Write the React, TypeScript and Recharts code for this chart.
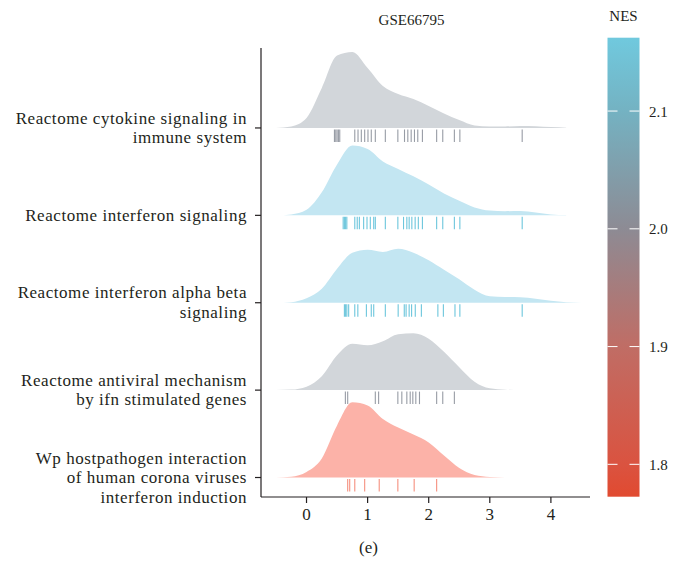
import React from "react";
import { ComposedChart, Area, Scatter, XAxis, YAxis } from "recharts";

// Categories, top to bottom
const PATHWAYS = [
  "Reactome cytokine signaling in\nimmune system",
  "Reactome interferon signaling",
  "Reactome interferon alpha beta\nsignaling",
  "Reactome antiviral mechanism\nby ifn stimulated genes",
  "Wp hostpathogen interaction\nof human corona viruses\ninterferon induction",
];
const X_TICKS = [0, 1, 2, 3, 4];
const NES_TICKS = [1.8, 1.9, 2.0, 2.1];

// Shared x grid of the density estimates
const X_GRID = [-0.5, -0.25, 0, 0.25, 0.5, 0.75, 1.0, 1.25, 1.5, 1.75, 2.0, 2.25, 2.5, 2.75, 3.0, 3.25, 3.5, 3.75, 4.0, 4.25, 4.5];

// Ridge densities (scaled)
const DENS_CYTOKINE = [0, 0.017, 0.114, 0.457, 0.83, 0.87, 0.686, 0.48, 0.389, 0.331, 0.251, 0.166, 0.091, 0.029, 0.017, 0.017, 0.023, 0.021, 0.011, 0.003, null];
const DENS_IFN = [0, 0.011, 0.063, 0.263, 0.583, 0.8, 0.76, 0.617, 0.531, 0.446, 0.354, 0.251, 0.166, 0.091, 0.055, 0.048, 0.05, 0.032, 0.01, 0.003, null];
const DENS_IFN_AB = [0, 0.007, 0.051, 0.16, 0.389, 0.571, 0.606, 0.581, 0.617, 0.571, 0.486, 0.377, 0.269, 0.149, 0.074, 0.065, 0.064, 0.046, 0.022, 0.007, 0];
const DENS_ANTIVIRAL = [0, 0.006, 0.04, 0.16, 0.4, 0.531, 0.514, 0.56, 0.64, 0.651, 0.589, 0.44, 0.263, 0.097, 0.021, 0.005, 0, null, null, null, null];
const DENS_WP = [0, 0.009, 0.063, 0.217, 0.594, 0.86, 0.825, 0.669, 0.571, 0.491, 0.4, 0.251, 0.109, 0.029, 0.007, 0.001, null, null, null, null, null];

// Rug (gene) positions
const RUG_CYTOKINE = [0.457, 0.479, 0.5, 0.522, 0.544, 0.79, 0.843, 0.897, 0.952, 1.006, 1.06, 1.126, 1.29, 1.495, 1.604, 1.658, 1.713, 1.767, 1.821, 1.897, 2.13, 2.23, 2.42, 2.51, 3.53];
const RUG_IFN = [0.6, 0.62, 0.64, 0.66, 0.79, 0.83, 0.865, 0.935, 0.99, 1.044, 1.1, 1.126, 1.29, 1.495, 1.588, 1.642, 1.68, 1.724, 1.778, 1.83, 1.897, 2.13, 2.23, 2.42, 2.51, 3.53];
const RUG_IFN_AB = [0.62, 0.64, 0.66, 0.69, 0.79, 0.84, 0.98, 1.06, 1.1, 1.29, 1.5, 1.6, 1.63, 1.68, 1.72, 1.78, 1.88, 2.15, 2.24, 2.43, 2.51, 3.53];
const RUG_ANTIVIRAL = [0.636, 0.674, 1.126, 1.18, 1.495, 1.56, 1.642, 1.697, 1.74, 1.789, 1.849, 2.13, 2.23, 2.42];
const RUG_WP = [0.674, 0.707, 0.79, 0.952, 1.19, 1.495, 1.762, 2.13];

const DENSITIES = [DENS_CYTOKINE, DENS_IFN, DENS_IFN_AB, DENS_ANTIVIRAL, DENS_WP];
const RUGS = [RUG_CYTOKINE, RUG_IFN, RUG_IFN_AB, RUG_ANTIVIRAL, RUG_WP];

const FILLS = ["#d2d6da", "#c3e6f2", "#c3e6f2", "#d2d6da", "#fcb2a8"];
const RUG_COLORS = ["#979ca5", "#6cc6dc", "#6cc6dc", "#979ca5", "#f5907f"];

const N = PATHWAYS.length;
const baselineOf = (i: number) => N - i; // top ridge highest

const table = X_GRID.map((x, j) => {
  const row: any = { x };
  DENSITIES.forEach((d, i) => {
    const v = d[j];
    row["r" + i] = v == null ? null : [baselineOf(i), baselineOf(i) + v];
  });
  return row;
});

const rugData = RUGS.map((r, i) => r.map((x) => ({ x, y: baselineOf(i) })));

const FONT = "'Liberation Serif', 'DejaVu Serif', serif";
const TEXT = "#231f20";

const YTick = (props: any) => {
  const { x, y, payload } = props;
  const idx = N - payload.value;
  const label = PATHWAYS[idx] || "";
  const lines = label.split("\n");
  const lh = 19.5;
  const start = -((lines.length - 1) / 2) * lh + 5.5;
  return (
    <text x={x - 6} y={y} textAnchor="end" fontFamily={FONT} fontSize={17} letterSpacing={0.55} fill={TEXT}>
      {lines.map((l, k) => (
        <tspan key={k} x={x - 6} dy={k === 0 ? start : lh}>
          {l}
        </tspan>
      ))}
    </text>
  );
};

const RugShape = (color: string) => (props: any) => {
  const { cx, cy } = props;
  return <line x1={cx} x2={cx} y1={cy + 1.5} y2={cy + 14} stroke={color} strokeWidth={1.1} />;
};

const NES_MAX = 2.1623;
const NES_MIN = 1.7725;
const BAR = { x: 599.5, y: 29.7, w: 32, h: 459 };

const ColorBar = () => {
  const pos = (v: number) => BAR.y + ((NES_MAX - v) / (NES_MAX - NES_MIN)) * BAR.h;
  return (
    <svg width={662} height={549} style={{ position: "absolute", left: 0, top: 0, pointerEvents: "none", overflow: "visible" }}>
      <defs>
        <linearGradient id="nesGrad" x1="0" y1="0" x2="0" y2="1">
          <stop offset="0" stopColor="#70c9de" />
          <stop offset="0.16" stopColor="#74b2c2" />
          <stop offset="0.416" stopColor="#8d8b94" />
          <stop offset="0.673" stopColor="#c06d65" />
          <stop offset="0.93" stopColor="#da5340" />
          <stop offset="1" stopColor="#e14a30" />
        </linearGradient>
      </defs>
      <rect x={BAR.x} y={BAR.y} width={BAR.w} height={BAR.h} fill="url(#nesGrad)" />
      {NES_TICKS.map((t) => (
        <g key={t}>
          <line x1={BAR.x} x2={BAR.x + 10} y1={pos(t)} y2={pos(t)} stroke="#ffffff" strokeWidth={1} />
          <line x1={BAR.x + BAR.w - 10} x2={BAR.x + BAR.w} y1={pos(t)} y2={pos(t)} stroke="#ffffff" strokeWidth={1} />
          <text x={BAR.x + 41.5} y={pos(t) + 5.5} fontFamily={FONT} fontSize={15} fill={TEXT}>
            {t.toFixed(1)}
          </text>
        </g>
      ))}
      <text x={BAR.x + BAR.w / 2} y={13} textAnchor="middle" fontFamily={FONT} fontSize={15} fill={TEXT}>
        NES
      </text>
      <text x={403.5} y={17} textAnchor="middle" fontFamily={FONT} fontSize={15} fill={TEXT}>
        GSE66795
      </text>
      <text x={360.5} y={545} textAnchor="middle" fontFamily={FONT} fontSize={17} fill={TEXT}>
        (e)
      </text>
    </svg>
  );
};

export default function App() {
  return (
    <div style={{ position: "relative", width: 662, height: 549, background: "#fff" }}>
      <ComposedChart width={662} height={549} data={table} margin={{ top: 40, right: 80, bottom: 30, left: 0 }}>
        <XAxis
          dataKey="x"
          type="number"
          domain={[-0.745, 4.64]}
          ticks={X_TICKS}
          allowDataOverflow
          height={30}
          tickSize={6}
          axisLine={{ stroke: "#231f20", strokeWidth: 1.2 }}
          tickLine={{ stroke: "#231f20", strokeWidth: 1.2 }}
          tick={{ fill: TEXT, fontSize: 17, fontFamily: FONT, dy: 3 }}
        />
        <YAxis
          type="number"
          domain={[0.777, 5.915]}
          ticks={[1, 2, 3, 4, 5]}
          allowDataOverflow
          width={253}
          tickSize={6}
          axisLine={{ stroke: "#231f20", strokeWidth: 1.2 }}
          tickLine={{ stroke: "#231f20", strokeWidth: 1.2 }}
          tick={<YTick />}
        />
        {PATHWAYS.map((p, i) => (
          <Area
            key={"a" + i}
            dataKey={"r" + i}
            type="monotone"
            fill={FILLS[i]}
            fillOpacity={1}
            stroke="none"
            isAnimationActive={false}
            dot={false}
            activeDot={false}
          />
        ))}
        {PATHWAYS.map((p, i) => (
          <Scatter
            key={"s" + i}
            data={rugData[i]}
            dataKey="y"
            shape={RugShape(RUG_COLORS[i])}
            isAnimationActive={false}
          />
        ))}
      </ComposedChart>
      <ColorBar />
    </div>
  );
}
